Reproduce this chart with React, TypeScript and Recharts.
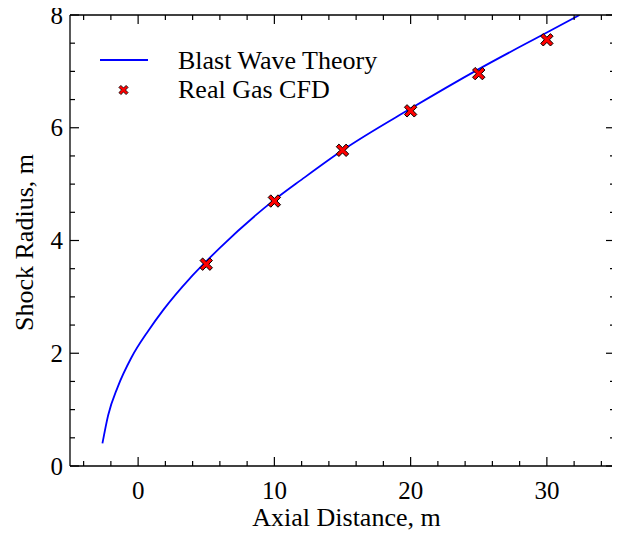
import React from 'react';
import { ComposedChart, Line, Scatter, XAxis, YAxis, Legend } from 'recharts';

// ---- data ----
const SERIES_NAMES = ['Blast Wave Theory', 'Real Gas CFD'];

const theoryX = [-2.62, -2.2, -1.5, -0.5, 0.75, 1.85, 3.8, 5, 6, 10, 12, 15, 20, 25, 30, 32.4];
const theoryY = [0.4, 0.9, 1.4, 1.92, 2.4, 2.77, 3.33, 3.63, 3.87, 4.72, 5.08, 5.6, 6.34, 7.04, 7.69, 8.0];

const cfdX = [5, 10, 15, 20, 25, 30];
const cfdY = [3.58, 4.7, 5.6, 6.3, 6.96, 7.56];

const X_TICKS = [-4, -2, 0, 2, 4, 6, 8, 10, 12, 14, 16, 18, 20, 22, 24, 26, 28, 30, 32, 34];
const X_MAJOR = [0, 10, 20, 30];
const Y_TICKS = [0, 0.5, 1, 1.5, 2, 2.5, 3, 3.5, 4, 4.5, 5, 5.5, 6, 6.5, 7, 7.5, 8];
const Y_MAJOR = [0, 2, 4, 6, 8];

const X_DOMAIN: [number, number] = [-5, 35];
const Y_DOMAIN: [number, number] = [0, 8];

const theoryData = theoryX.map((x, i) => ({ x, y: theoryY[i] }));
const cfdData = cfdX.map((x, i) => ({ x, y: cfdY[i] }));

// ---- styles ----
const FONT = "'Liberation Serif', 'Times New Roman', serif";
const AXIS_COLOR = '#000';
const MAJOR_LEN = 9;
const MINOR_LEN = 5;
const LINE_COLOR = '#0000ff';

const xMarkPath = (cx: number, cy: number, s: number, t: number) => {
  const p = [
    [-s, -s + t], [-s + t, -s], [0, -t], [s - t, -s], [s, -s + t], [t, 0],
    [s, s - t], [s - t, s], [0, t], [-s + t, s], [-s, s - t], [-t, 0],
  ];
  return 'M' + p.map(([dx, dy]) => `${cx + dx},${cy + dy}`).join('L') + 'Z';
};

const XMarker = (props: any) => {
  const { cx, cy } = props;
  if (cx == null || cy == null) return null;
  return <path d={xMarkPath(cx, cy, 6.2, 2.6)} fill="#ff0000" stroke="#000" strokeWidth={1} />;
};

const makeXTick = (side: 'bottom' | 'top') => (props: any) => {
  const { x, y, payload } = props;
  const v = payload.value;
  const major = X_MAJOR.includes(v);
  const len = major ? MAJOR_LEN : MINOR_LEN;
  const dir = side === 'bottom' ? -1 : 1;
  return (
    <g>
      <line x1={x} x2={x} y1={y} y2={y + dir * len} stroke={AXIS_COLOR} strokeWidth={1.2} />
      {side === 'bottom' && major && (
        <text x={x} y={y + 33} textAnchor="middle" fontFamily={FONT} fontSize={25} fill="#000">
          {v}
        </text>
      )}
    </g>
  );
};

const makeYTick = (side: 'left' | 'right') => (props: any) => {
  const { x, y, payload } = props;
  const v = payload.value;
  const major = Y_MAJOR.includes(v);
  const len = major ? MAJOR_LEN : MINOR_LEN;
  const dir = side === 'left' ? 1 : -1;
  return (
    <g>
      <line x1={x} x2={x + dir * len} y1={y} y2={y} stroke={AXIS_COLOR} strokeWidth={1.2} />
      {side === 'left' && major && (
        <text x={x - 7} y={y + 8.5} textAnchor="end" fontFamily={FONT} fontSize={25} fill="#000">
          {v}
        </text>
      )}
    </g>
  );
};

const XTitle = (props: any) => {
  const vb = props.viewBox || { x: 0, y: 0, width: 0, height: 0 };
  return (
    <text x={vb.x + vb.width / 2 + 4} y={vb.y + 60} textAnchor="middle" fontFamily={FONT} fontSize={26} fill="#000">
      Axial Distance, m
    </text>
  );
};

const YTitle = (props: any) => {
  const vb = props.viewBox || { x: 0, y: 0, width: 0, height: 0 };
  const cx = vb.x + 25;
  const cy = vb.y + vb.height / 2 + 2;
  return (
    <text
      x={cx}
      y={cy}
      transform={`rotate(-90 ${cx} ${cy})`}
      textAnchor="middle"
      fontFamily={FONT}
      fontSize={26}
      fill="#000"
    >
      Shock Radius, m
    </text>
  );
};

const renderLegend = () => (
  <svg width={330} height={66} style={{ display: 'block' }}>
    <line x1={5} x2={53} y1={20} y2={20} stroke={LINE_COLOR} strokeWidth={1.8} />
    <path d={xMarkPath(28.5, 50, 4.6, 2)} fill="#ff0000" stroke="#000" strokeWidth={0.8} />
    <text x={83} y={29} fontFamily={FONT} fontSize={26} fill="#000">
      {SERIES_NAMES[0]}
    </text>
    <text x={83} y={58} fontFamily={FONT} fontSize={26} fill="#000">
      {SERIES_NAMES[1]}
    </text>
  </svg>
);

export default function App() {
  return (
    <div>
      <style>{'.recharts-surface{overflow:visible}'}</style>
      <ComposedChart width={610} height={522} margin={{ top: 0, right: 0, bottom: 0, left: 0 }}>
        <XAxis
          xAxisId="b"
          type="number"
          dataKey="x"
          domain={X_DOMAIN}
          allowDataOverflow
          ticks={X_TICKS}
          interval={0}
          tickLine={false}
          tickSize={0}
          tickMargin={0}
          tick={makeXTick('bottom')}
          axisLine={{ stroke: AXIS_COLOR, strokeWidth: 1.3 }}
          height={64}
          label={<XTitle />}
        />
        <XAxis
          xAxisId="t"
          orientation="top"
          type="number"
          dataKey="x"
          domain={X_DOMAIN}
          allowDataOverflow
          ticks={X_TICKS}
          interval={0}
          tickLine={false}
          tickSize={0}
          tickMargin={0}
          tick={makeXTick('top')}
          axisLine={{ stroke: AXIS_COLOR, strokeWidth: 1.3 }}
          height={7}
        />
        <YAxis
          yAxisId="l"
          type="number"
          dataKey="y"
          domain={Y_DOMAIN}
          allowDataOverflow
          ticks={Y_TICKS}
          interval={0}
          tickLine={false}
          tickSize={0}
          tickMargin={0}
          tick={makeYTick('left')}
          axisLine={{ stroke: AXIS_COLOR, strokeWidth: 1.3 }}
          width={62}
          label={<YTitle />}
        />
        <YAxis
          yAxisId="r"
          orientation="right"
          type="number"
          dataKey="y"
          domain={Y_DOMAIN}
          allowDataOverflow
          ticks={Y_TICKS}
          interval={0}
          tickLine={false}
          tickSize={0}
          tickMargin={0}
          tick={makeYTick('right')}
          axisLine={{ stroke: AXIS_COLOR, strokeWidth: 1.3 }}
          width={3}
        />
        <Line
          xAxisId="b"
          yAxisId="l"
          data={theoryData}
          dataKey="y"
          name={SERIES_NAMES[0]}
          type="monotone"
          stroke={LINE_COLOR}
          strokeWidth={1.8}
          dot={false}
          activeDot={false}
          isAnimationActive={false}
        />
        <Scatter
          xAxisId="t"
          yAxisId="r"
          data={cfdData}
          dataKey="y"
          name={SERIES_NAMES[1]}
          shape={<XMarker />}
          isAnimationActive={false}
        />
        <Legend
          content={renderLegend}
          layout="horizontal"
          verticalAlign="middle"
          align="center"
          wrapperStyle={{ top: 32, left: 87, width: 330, height: 66 }}
        />
      </ComposedChart>
    </div>
  );
}
